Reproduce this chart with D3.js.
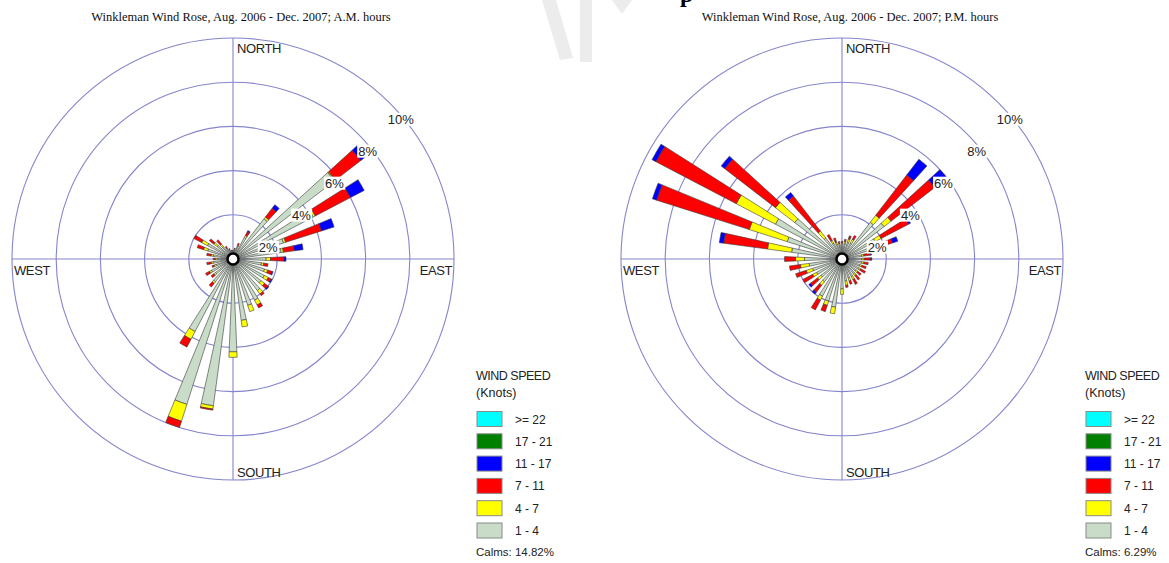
<!DOCTYPE html>
<html>
<head>
<meta charset="utf-8">
<script src="https://cdn.jsdelivr.net/npm/d3@7"></script>
<style>
  body { margin: 0; background: #fff; }
  svg { display: block; }
</style>
</head>
<body>
<svg id="chart" width="1169" height="563"></svg>
<script>
//----------------data--------------//
// wind directions (degrees from north, clockwise)
const directions = [0, 10, 20, 30, 40, 50, 60, 70, 80, 90, 100, 110, 120, 130, 140, 150, 160, 170,
  180, 190, 200, 210, 220, 230, 240, 250, 260, 270, 280, 290, 300, 310, 320, 330, 340, 350];

// speed classes, slowest first (stacked from the centre outward)
const speedClasses = ["1 - 4", "4 - 7", "7 - 11", "11 - 17", "17 - 21", ">= 22"];
const ringTicks = [2, 4, 6, 8, 10];

// A.M. hours, percent of time per direction for each speed class
const amSpeed1to4 = [0.35, 0.4, 0.6, 1.1, 2.3, 5.8, 4.1, 2.4, 2.2, 1.5, 1.3, 1.5, 1.6, 1.6, 1.8, 2.1, 2.2, 2.8,
  4.2, 6.7, 6.9, 3.7, 1.3, 1.0, 1.1, 0.8, 0.9, 0.7, 0.9, 1.2, 1.3, 0.9, 0.7, 0.5, 0.4, 0.35];
const amSpeed4to7 = [0.03, 0.05, 0.05, 0.1, 0.1, 0.05, 0.1, 0.1, 0.1, 0.2, 0.1, 0.15, 0.2, 0.2, 0.2, 0.25, 0.3, 0.3,
  0.25, 0.15, 0.8, 0.4, 0.1, 0.1, 0.1, 0.1, 0.1, 0.1, 0.1, 0.2, 0.3, 0.2, 0.15, 0.05, 0.05, 0.03];
const amSpeed7to11 = [0.02, 0.05, 0.1, 0.2, 0.5, 1.45, 1.8, 1.7, 0.5, 0.6, 0.2, 0.2, 0.15, 0.2, 0.1, 0.15, 0, 0,
  0, 0.05, 0.3, 0.4, 0.2, 0.15, 0.2, 0.1, 0.2, 0.1, 0.2, 0.3, 0.4, 0.25, 0.25, 0.1, 0.05, 0.02];
const amSpeed11to17 = [0, 0, 0, 0.05, 0.2, 0.3, 0.7, 0.6, 0.4, 0.1, 0, 0.05, 0.05, 0.05, 0, 0, 0, 0,
  0, 0, 0, 0, 0, 0, 0, 0, 0, 0, 0, 0, 0, 0, 0, 0, 0, 0];
const amSpeed17to21 = [0, 0, 0, 0, 0, 0, 0, 0, 0, 0, 0, 0, 0, 0, 0, 0, 0, 0,
  0, 0, 0, 0, 0, 0, 0, 0, 0, 0, 0, 0, 0, 0, 0, 0, 0, 0];
const amSpeed22plus = [0, 0, 0, 0, 0, 0, 0, 0, 0, 0, 0, 0, 0, 0, 0, 0, 0, 0,
  0, 0, 0, 0, 0, 0, 0, 0, 0, 0, 0, 0, 0, 0, 0, 0, 0, 0];
const amCalms = "14.82%";

// P.M. hours
const pmSpeed1to4 = [0.7, 0.7, 0.8, 0.8, 2.1, 2.4, 1.7, 1.8, 0.9, 0.9, 0.9, 0.85, 0.85, 0.8, 0.85, 0.9, 0.9, 1.0,
  1.35, 2.2, 2.0, 1.9, 1.3, 1.2, 1.3, 1.4, 1.5, 1.7, 2.3, 2.6, 3.4, 2.7, 1.2, 0.8, 0.7, 0.6];
const pmSpeed4to7 = [0.05, 0.1, 0.15, 0.2, 0.4, 0.4, 0.3, 0.2, 0.1, 0.1, 0.1, 0.1, 0.1, 0.1, 0.1, 0.15, 0.15, 0.2,
  0.25, 0.3, 0.2, 0.2, 0.2, 0.2, 0.2, 0.3, 0.4, 0.4, 1.1, 1.8, 2.0, 1.1, 0.4, 0.15, 0.1, 0.1];
const pmSpeed7to11 = [0.05, 0.1, 0.15, 0.2, 2.3, 2.5, 1.4, 0.4, 0.3, 0.3, 0.2, 0.2, 0.25, 0.2, 0.25, 0.25, 0.15, 0.1,
  0, 0, 0.3, 0.5, 0.4, 0.4, 0.5, 0.5, 0.5, 0.5, 2.0, 4.4, 4.1, 2.9, 2.0, 0.3, 0.2, 0.1];
const pmSpeed11to17 = [0, 0, 0, 0, 0.9, 0.7, 0.1, 0.25, 0.05, 0.05, 0, 0, 0, 0, 0, 0, 0, 0,
  0, 0, 0, 0, 0.1, 0.1, 0, 0, 0, 0, 0.2, 0.2, 0.2, 0.2, 0.2, 0, 0, 0];
const pmSpeed17to21 = [0, 0, 0, 0, 0, 0, 0, 0, 0, 0, 0, 0, 0, 0, 0, 0, 0, 0,
  0, 0, 0, 0, 0, 0, 0, 0, 0, 0, 0, 0, 0, 0, 0, 0, 0, 0];
const pmSpeed22plus = [0, 0, 0, 0, 0, 0, 0, 0, 0, 0, 0, 0, 0, 0, 0, 0, 0, 0,
  0, 0, 0, 0, 0, 0, 0, 0, 0, 0, 0, 0, 0, 0, 0, 0, 0, 0];
const pmCalms = "6.29%";

//----------------styles--------------//
const speedColors = ["#c8dcc8", "#ffff00", "#ff0000", "#0000ff", "#008000", "#00ffff"];
const gridColor = "#8585cc";
const sansFont = "'Liberation Sans', Arial, sans-serif";
const serifFont = "'Liberation Serif', 'Times New Roman', serif";

const svg = d3.select("#chart");
svg.append("rect").attr("width", 1169).attr("height", 563).attr("fill", "#fff");

// faint scanned-page marks between the two charts
const marks = svg.append("g").attr("fill", "#ececec");
marks.append("path").attr("d", "M542,0 L556,0 L573,58 L560,60 Z");
marks.append("rect").attr("x", 580).attr("y", 0).attr("width", 12).attr("height", 62);
marks.append("path").attr("d", "M612,0 L632,0 L622,14 Z");
svg.append("text")
  .attr("x", 680).attr("y", 2)
  .attr("font-family", serifFont).attr("font-weight", "bold").attr("font-size", 24)
  .attr("fill", "#000")
  .text("p");

const r = d3.scaleLinear().domain([0, 10]).range([0, 221]);
const halfWidth = 2.4 * Math.PI / 180; // half of a petal's angular width

//----------------one wind rose--------------//
function drawRose(cx, cy, title, classArrays, calms) {
  const g = svg.append("g").attr("transform", `translate(${cx}, ${cy})`);

  svg.append("text")
    .attr("x", cx + 8).attr("y", 21)
    .attr("text-anchor", "middle")
    .attr("font-family", serifFont).attr("font-size", 12.5)
    .attr("fill", "#111")
    .text(title);

  // rings and axes
  g.selectAll("circle.ring").data(ringTicks).join("circle")
    .attr("class", "ring")
    .attr("r", d => r(d))
    .attr("fill", "none").attr("stroke", gridColor).attr("stroke-width", 1.1);
  g.append("line").attr("x1", 0).attr("x2", 0).attr("y1", -r(10)).attr("y2", r(10))
    .attr("stroke", gridColor).attr("stroke-width", 1.1);
  g.append("line").attr("y1", 0).attr("y2", 0).attr("x1", -r(10)).attr("x2", r(10))
    .attr("stroke", gridColor).attr("stroke-width", 1.1);

  // compass labels
  const compass = [
    { t: "NORTH", x: 4, y: -206, a: "start" },
    { t: "SOUTH", x: 4, y: 218, a: "start" },
    { t: "WEST", x: -219, y: 16, a: "start" },
    { t: "EAST", x: 219, y: 16, a: "end" }
  ];
  g.selectAll("text.compass").data(compass).join("text")
    .attr("class", "compass")
    .attr("x", d => d.x).attr("y", d => d.y)
    .attr("text-anchor", d => d.a)
    .attr("font-family", sansFont).attr("font-size", 13)
    .attr("letter-spacing", -0.4)
    .attr("fill", "#222")
    .text(d => d.t);

  // stack the speed classes for every direction
  const segments = [];
  directions.forEach((dir, i) => {
    let acc = 0;
    classArrays.forEach((arr, k) => {
      const v = arr[i];
      if (v > 0) segments.push({ dir, k, from: acc, to: acc + v });
      acc += v;
    });
  });

  const arc = d3.arc()
    .innerRadius(d => r(d.from))
    .outerRadius(d => r(d.to))
    .startAngle(d => d.dir * Math.PI / 180 - halfWidth)
    .endAngle(d => d.dir * Math.PI / 180 + halfWidth);

  g.selectAll("path.petal").data(segments).join("path")
    .attr("class", "petal")
    .attr("d", arc)
    .attr("fill", d => speedColors[d.k])
    .attr("stroke", "#3a3a3a")
    .attr("stroke-width", 0.6)
    .attr("stroke-linejoin", "round");

  // calm circle in the middle
  g.append("circle").attr("r", 5.5)
    .attr("fill", "#fff").attr("stroke", "#000").attr("stroke-width", 2.5);

  // percent labels with a white box behind them
  const labels = g.selectAll("g.pct").data(ringTicks).join("g")
    .attr("class", "pct")
    .attr("transform", d => `translate(${2 + r(d) * 0.75}, ${20 - r(d) * 0.723})`);
  labels.append("text")
    .attr("text-anchor", "middle").attr("dy", "0.35em")
    .attr("font-family", sansFont).attr("font-size", 13)
    .attr("fill", "#222")
    .text(d => d + "%");
  labels.each(function () {
    const box = d3.select(this).select("text").node().getBBox();
    d3.select(this).insert("rect", "text")
      .attr("x", box.x - 1).attr("y", box.y + 1)
      .attr("width", box.width + 2).attr("height", box.height - 2)
      .attr("fill", "#fff");
  });

  // legend
  const lx = cx + 243;
  const leg = svg.append("g").attr("font-family", sansFont).attr("fill", "#222");
  leg.append("text").attr("x", lx).attr("y", 380).attr("font-size", 12.5)
    .attr("letter-spacing", -0.5).text("WIND SPEED");
  leg.append("text").attr("x", lx).attr("y", 397).attr("font-size", 12.5).text("(Knots)");

  const legendOrder = d3.range(speedClasses.length).reverse();
  legendOrder.forEach((k, row) => {
    const y = 419 + row * 22.3;
    leg.append("rect")
      .attr("x", lx + 1).attr("y", y - 7.5)
      .attr("width", 25).attr("height", 15)
      .attr("fill", speedColors[k]).attr("stroke", "#8a8a8a").attr("stroke-width", 1);
    leg.append("text").attr("x", lx + 39).attr("y", y + 4.5)
      .attr("font-size", 12).text(speedClasses[k]);
  });
  leg.append("text").attr("x", lx).attr("y", 556).attr("font-size", 11.5)
    .text("Calms: " + calms);
}

drawRose(233, 259, "Winkleman Wind Rose, Aug. 2006 - Dec. 2007; A.M. hours",
  [amSpeed1to4, amSpeed4to7, amSpeed7to11, amSpeed11to17, amSpeed17to21, amSpeed22plus], amCalms);
drawRose(842, 259, "Winkleman Wind Rose, Aug. 2006 - Dec. 2007; P.M. hours",
  [pmSpeed1to4, pmSpeed4to7, pmSpeed7to11, pmSpeed11to17, pmSpeed17to21, pmSpeed22plus], pmCalms);
</script>
</body>
</html>
